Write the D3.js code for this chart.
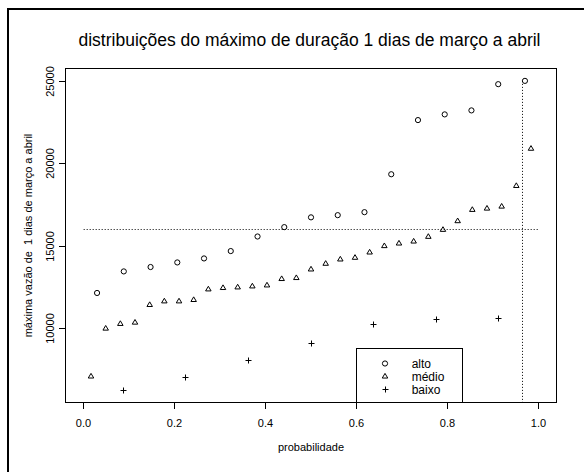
<!DOCTYPE html>
<html>
<head>
<meta charset="utf-8">
<script src="https://cdn.jsdelivr.net/npm/d3@7"></script>
<style>
  html, body { margin: 0; padding: 0; background: #fff; }
  svg text { font-family: "Liberation Sans", Arial, sans-serif; fill: #000; white-space: pre; }
</style>
</head>
<body>
<svg id="chart" width="584" height="472"></svg>
<script>
// ---- data ----
const altoProb = [0.0294, 0.0882, 0.1471, 0.2059, 0.2647, 0.3235, 0.3824, 0.4412, 0.5000, 0.5588, 0.6176, 0.6765, 0.7353, 0.7941, 0.8529, 0.9118, 0.9706];
const altoVal  = [12154, 13465, 13732, 14011, 14254, 14703, 15589, 16159, 16754, 16887, 17069, 19375, 22670, 23016, 23259, 24854, 25055];

const medioProb = [0.0161, 0.0484, 0.0806, 0.1129, 0.1452, 0.1774, 0.2097, 0.2419, 0.2742, 0.3065, 0.3387, 0.3710, 0.4032, 0.4355, 0.4677, 0.5000, 0.5323, 0.5645, 0.5968, 0.6290, 0.6613, 0.6935, 0.7258, 0.7581, 0.7903, 0.8226, 0.8548, 0.8871, 0.9194, 0.9516, 0.9839];
const medioVal  = [7075, 9988, 10273, 10352, 11426, 11644, 11644, 11729, 12373, 12458, 12494, 12555, 12615, 13004, 13064, 13586, 13932, 14193, 14296, 14618, 15006, 15164, 15285, 15570, 15995, 16523, 17209, 17288, 17409, 18665, 20929];

const baixoProb = [0.0865, 0.2239, 0.3622, 0.5009, 0.6380, 0.7756, 0.9131];
const baixoVal  = [6244, 7033, 8064, 9059, 10249, 10516, 10576];

const xTicks = [0, 0.2, 0.4, 0.6, 0.8, 1.0];
const xTickLabels = ["0.0", "0.2", "0.4", "0.6", "0.8", "1.0"];
const yTicks = [10000, 15000, 20000, 25000];
const yTickLabels = ["10000", "15000", "20000", "25000"];

const refLevel = 16000;      // horizontal dotted line
const refProb = 0.9655;      // vertical dotted line
const legendLabels = ["alto", "médio", "baixo"];

const titleText = "distribuições do máximo de duração 1 dias de março a abril";
const xTitle = "probabilidade";
const yTitle = "máxima vazão de  1 dias de março a abril";

// ---- layout ----
const plot = { left: 65.5, right: 556.5, top: 68.5, bottom: 402.5 };
const svg = d3.select("#chart");
const snap = v => Math.round(v - 0.5) + 0.5;

// outer frame (left and top edges only visible)
svg.append("path")
  .attr("d", "M8,472 V9 H584")
  .attr("fill", "none").attr("stroke", "#000").attr("stroke-width", 2);

// scales with R-style 4% padding
const x = d3.scaleLinear().domain([-0.04, 1.04]).range([plot.left, plot.right]);
const allY = altoVal.concat(medioVal, baixoVal);
const [yMin, yMax] = d3.extent(allY);
const pad = (yMax - yMin) * 0.04;
const y = d3.scaleLinear().domain([yMin - pad, yMax + pad]).range([plot.bottom, plot.top]);

// plot box
svg.append("rect")
  .attr("x", plot.left).attr("y", plot.top)
  .attr("width", plot.right - plot.left).attr("height", plot.bottom - plot.top)
  .attr("fill", "none").attr("stroke", "#000").attr("stroke-width", 1);

// x axis
const xAxis = d3.axisBottom(x).tickValues(xTicks).tickSize(6.5).tickSizeOuter(0)
  .tickFormat((d, i) => xTickLabels[i]);
const gx = svg.append("g").attr("transform", `translate(0,${plot.bottom})`).call(xAxis);
gx.select(".domain").attr("d", `M${x(xTicks[0])},0H${x(xTicks[xTicks.length - 1])}`);
gx.selectAll(".tick").attr("transform", d => `translate(${snap(x(d))},0)`);
gx.selectAll("text").attr("font-size", 11).attr("dy", null).attr("y", 24)
  .style("font-family", '"Liberation Sans", Arial, sans-serif');

// y axis
const yAxis = d3.axisLeft(y).tickValues(yTicks).tickSize(6.5).tickSizeOuter(0)
  .tickFormat((d, i) => yTickLabels[i]);
const gy = svg.append("g").attr("transform", `translate(${plot.left},0)`).call(yAxis);
gy.select(".domain").attr("d", `M0,${y(yTicks[0])}V${y(yTicks[yTicks.length - 1])}`);
gy.selectAll(".tick").attr("transform", d => `translate(0,${snap(y(d))})`);
gy.selectAll(".tick text")
  .attr("x", null).attr("dy", null)
  .attr("font-size", 11)
  .attr("text-anchor", "middle")
  .attr("transform", "translate(-12,0) rotate(-90)")
  .style("font-family", '"Liberation Sans", Arial, sans-serif');
svg.selectAll(".domain, .tick line").attr("stroke", "#000");

// titles
svg.append("text").attr("x", (plot.left + plot.right) / 2 - 1.5).attr("y", 45.5)
  .attr("text-anchor", "middle").attr("font-size", 17.5).text(titleText);
svg.append("text").attr("x", (plot.left + plot.right) / 2).attr("y", 450.5)
  .attr("text-anchor", "middle").attr("font-size", 11).text(xTitle);
svg.append("text")
  .attr("transform", `translate(31.5,${(plot.top + plot.bottom) / 2}) rotate(-90)`)
  .attr("text-anchor", "middle").attr("font-size", 11).text(yTitle);

// reference lines
svg.append("line")
  .attr("x1", x(0)).attr("x2", x(1)).attr("y1", snap(y(refLevel))).attr("y2", snap(y(refLevel)))
  .attr("stroke", "#000").attr("stroke-width", 1).attr("stroke-dasharray", "1,2");
svg.append("line")
  .attr("x1", snap(x(refProb))).attr("x2", snap(x(refProb))).attr("y1", y(yMax)).attr("y2", plot.bottom)
  .attr("stroke", "#000").attr("stroke-width", 1).attr("stroke-dasharray", "1,2");

// symbols
const circR = 2.6;
const triPath = "M0,-3.1L2.75,1.55L-2.75,1.55Z";
const plusPath = "M-3,0H3M0,-3V3";

function drawCircle(g, cx, cy) {
  g.append("circle").attr("cx", cx).attr("cy", cy).attr("r", circR)
    .attr("fill", "none").attr("stroke", "#000").attr("stroke-width", 1);
}
function drawPath(g, cx, cy, d) {
  g.append("path").attr("d", d).attr("transform", `translate(${cx},${cy})`)
    .attr("fill", "none").attr("stroke", "#000").attr("stroke-width", 1);
}

const pts = svg.append("g");
altoProb.forEach((p, i) => drawCircle(pts, x(p), y(altoVal[i])));
medioProb.forEach((p, i) => drawPath(pts, x(p), y(medioVal[i]), triPath));
baixoProb.forEach((p, i) => drawPath(pts, snap(x(p)), snap(y(baixoVal[i])), plusPath));

// legend
const leg = { left: snap(x(0.6)), right: 462.5, top: 348.5, bottom: plot.bottom };
svg.append("rect")
  .attr("x", leg.left).attr("y", leg.top)
  .attr("width", leg.right - leg.left).attr("height", leg.bottom - leg.top)
  .attr("fill", "#fff").attr("stroke", "#000").attr("stroke-width", 1);
const rowY = [363.5, 376.5, 389.5];
drawCircle(svg, 385, rowY[0]);
drawPath(svg, 385, rowY[1], triPath);
drawPath(svg, 385.5, rowY[2], plusPath);
legendLabels.forEach((t, i) => {
  svg.append("text").attr("x", 411.7).attr("y", rowY[i] + 4.3)
    .attr("font-size", 12).text(t);
});
</script>
</body>
</html>
